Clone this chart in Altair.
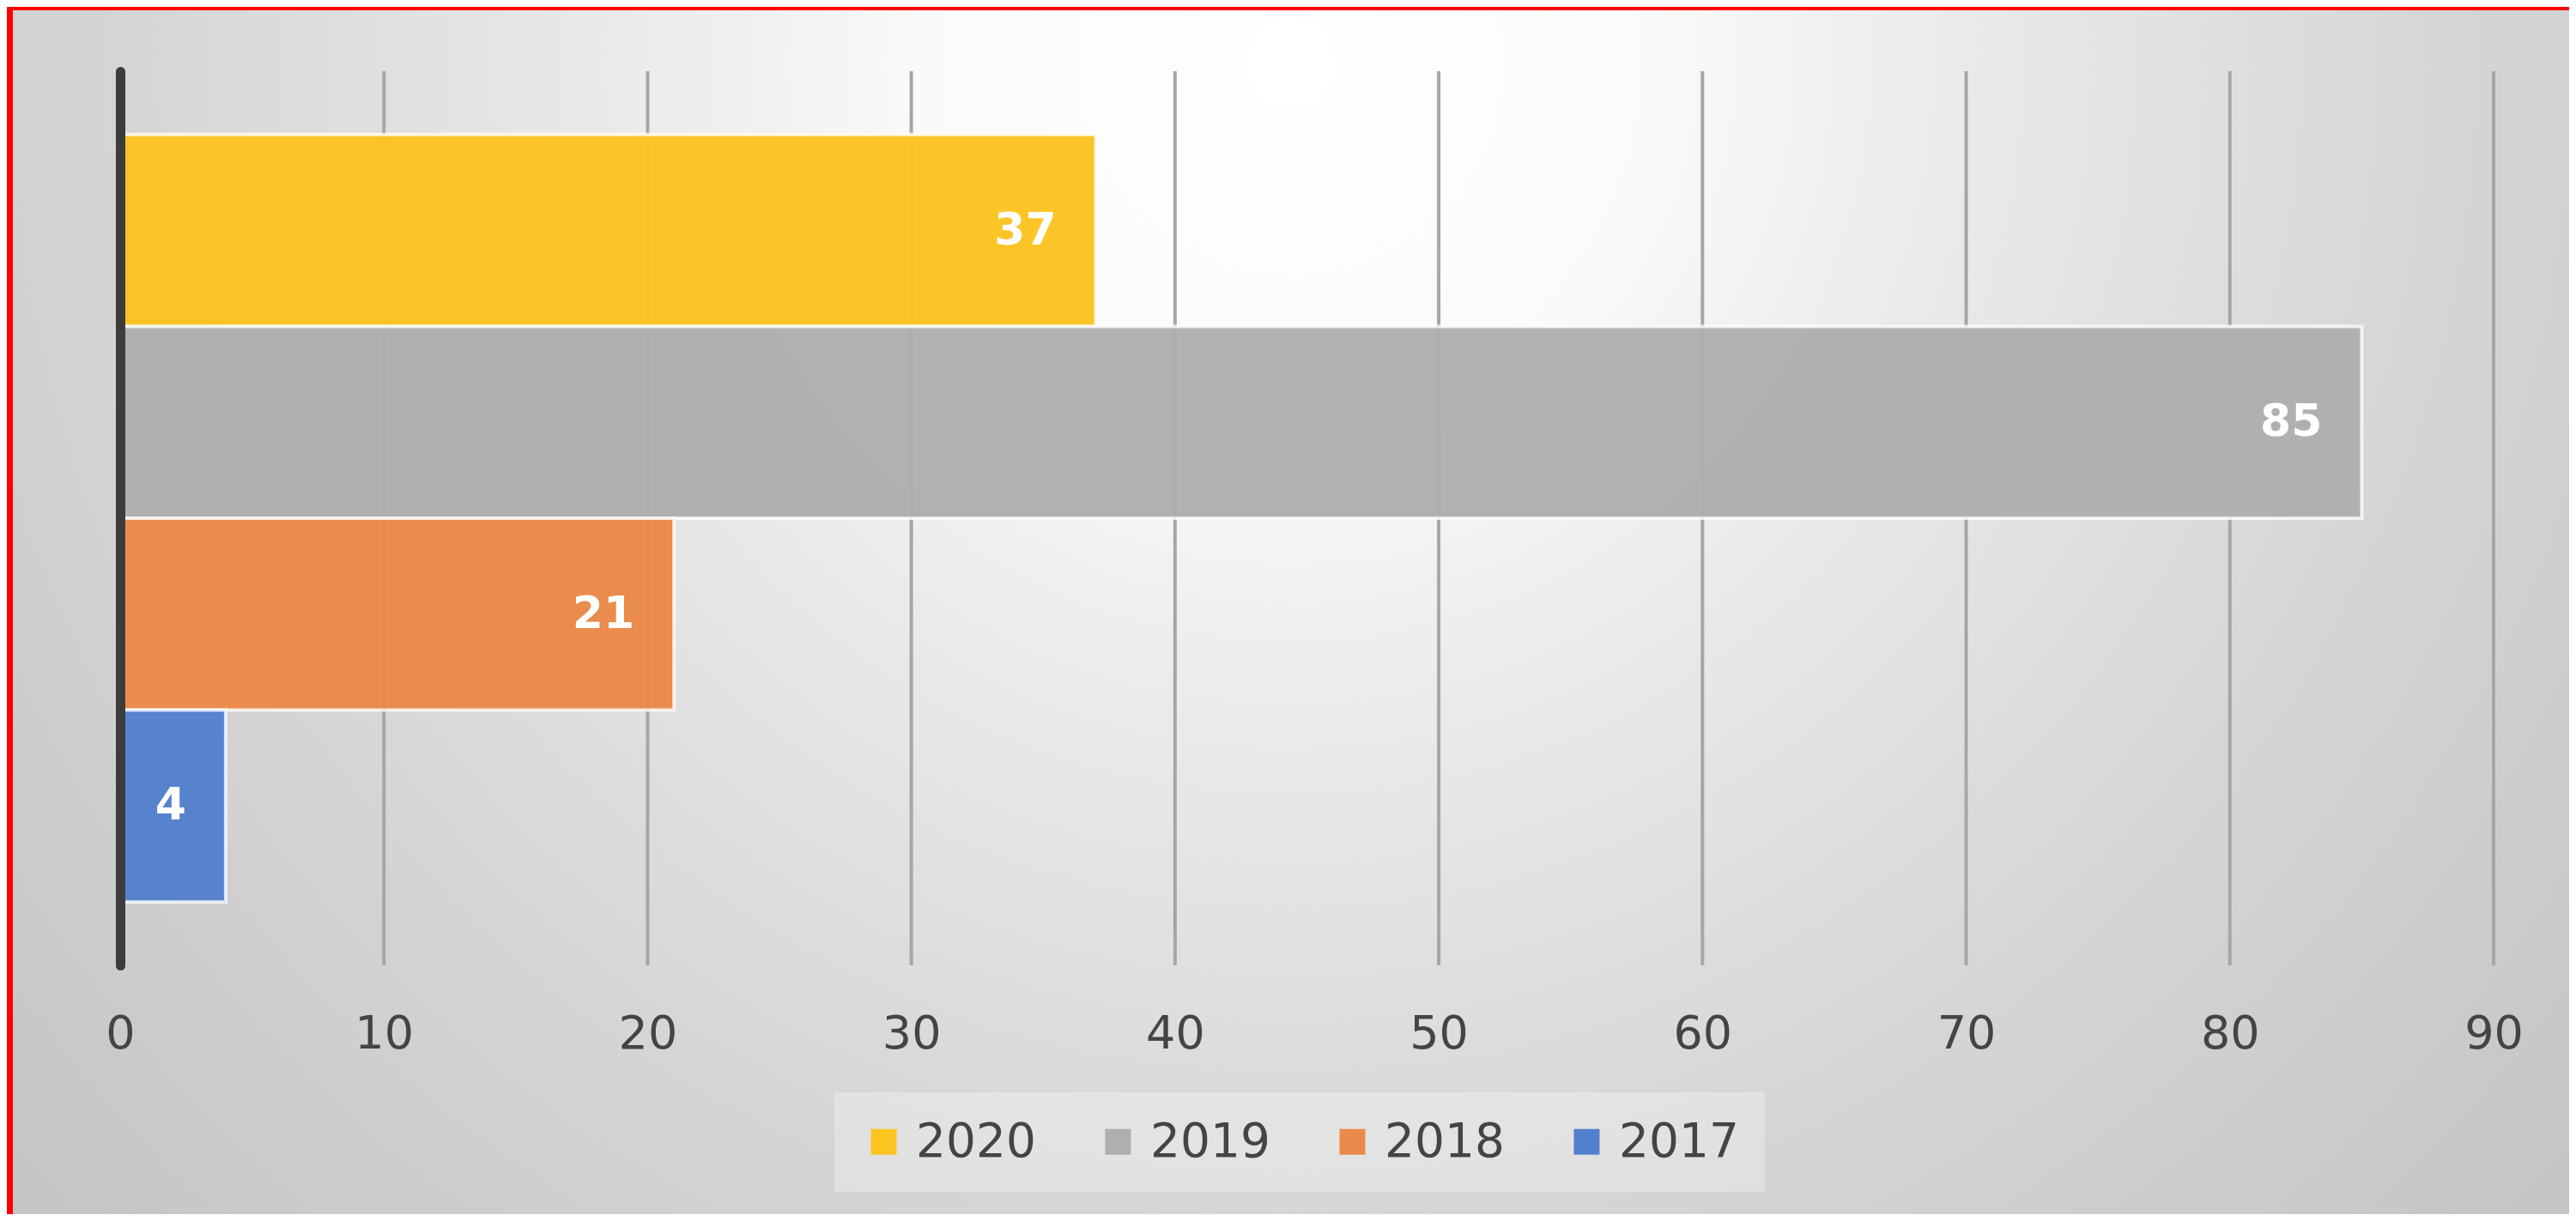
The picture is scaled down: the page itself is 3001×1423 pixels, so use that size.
import altair as alt
import pandas as pd

# ---- data ----
years = ["2020", "2019", "2018", "2017"]
values = [37, 85, 21, 4]
colors = ["#FCC421", "#AFAFAF", "#EA8A4A", "#5380CE"]
tick_values = [0, 10, 20, 30, 40, 50, 60, 70, 80, 90]

W, H = 2765, 1042
PAD = {"left": 132, "top": 75, "right": 88, "bottom": 290}

df = pd.DataFrame({"year": years, "value": values})
grid_df = pd.DataFrame({"v": tick_values})
bg_df = pd.DataFrame({"k": [0]})

FONT = "DejaVu Sans"

xscale = alt.Scale(domain=[0, 90], nice=False, zero=True)
yscale = alt.Scale(domain=years, paddingInner=0, paddingOuter=0.33)

xaxis = alt.Axis(values=tick_values, grid=False, domain=False, ticks=False, tickSize=0,
                 labelFontSize=54, labelFont=FONT, labelColor="#444444", labelFlush=False,
                 labelPadding=53, title=None, zindex=1)
yaxis = alt.Axis(labels=False, ticks=False, title=None, grid=False,
                 domainColor="#3c3c3c", domainWidth=11, domainCap="round", zindex=1)

# radial background (Vega maps gradient coords onto a square of side max(w, h))
gradient = {
    "gradient": "radial",
    "x1": 0.5, "y1": 0.2846, "r1": 0,
    "x2": 0.5, "y2": 0.2846, "r2": 0.7,
    "stops": [
        {"offset": 0.0, "color": "#ffffff"},
        {"offset": 0.19, "color": "#fbfbfb"},
        {"offset": 0.34, "color": "#ededed"},
        {"offset": 0.53, "color": "#dedede"},
        {"offset": 0.67, "color": "#d4d4d4"},
        {"offset": 1.0, "color": "#c2c2c2"},
    ],
}

bg = alt.Chart(bg_df).mark_rect(fill=gradient).encode(
    x=alt.value(-125), x2=alt.value(W + PAD["right"]),
    y=alt.value(-71), y2=alt.value(H + PAD["bottom"]),
)

grid = alt.Chart(grid_df).mark_rule(color="#a6a6a6", strokeWidth=4).encode(
    x=alt.X("v:Q", scale=xscale, axis=xaxis)
)

bars = alt.Chart(df).mark_bar(stroke="white", strokeWidth=4, strokeOpacity=0.8, opacity=0.97).encode(
    x=alt.X("value:Q", scale=xscale, axis=xaxis),
    y=alt.Y("year:N", scale=yscale, sort=years, axis=yaxis),
    color=alt.Color("year:N", scale=alt.Scale(domain=years, range=colors),
                    legend=alt.Legend(orient="none", legendX=832, legendY=1190,
                                      direction="horizontal", title=None,
                                      symbolType="square", symbolSize=900,
                                      symbolStrokeWidth=0, symbolOpacity=1,
                                      labelFontSize=55, labelFont=FONT, labelColor="#444444",
                                      labelOffset=10, columnPadding=68, padding=30,
                                      labelLimit=400,
                                      fillColor="rgba(255,255,255,0.28)")),
)

labels = alt.Chart(df).mark_text(align="right", baseline="middle", dx=-46, font=FONT,
                                 fontWeight="bold", fontSize=52, color="white").encode(
    x=alt.X("value:Q", scale=xscale, axis=xaxis),
    y=alt.Y("year:N", scale=yscale, sort=years, axis=yaxis),
    text="value:Q",
)

chart = alt.layer(bg, grid, bars, labels).properties(
    width=W, height=H,
    autosize=alt.AutoSizeParams(type="none"),
    padding=PAD,
    background="#ff0000",
).configure_view(stroke=None)

chart.save("out.html", embed_options={"renderer": "svg", "actions": False})
